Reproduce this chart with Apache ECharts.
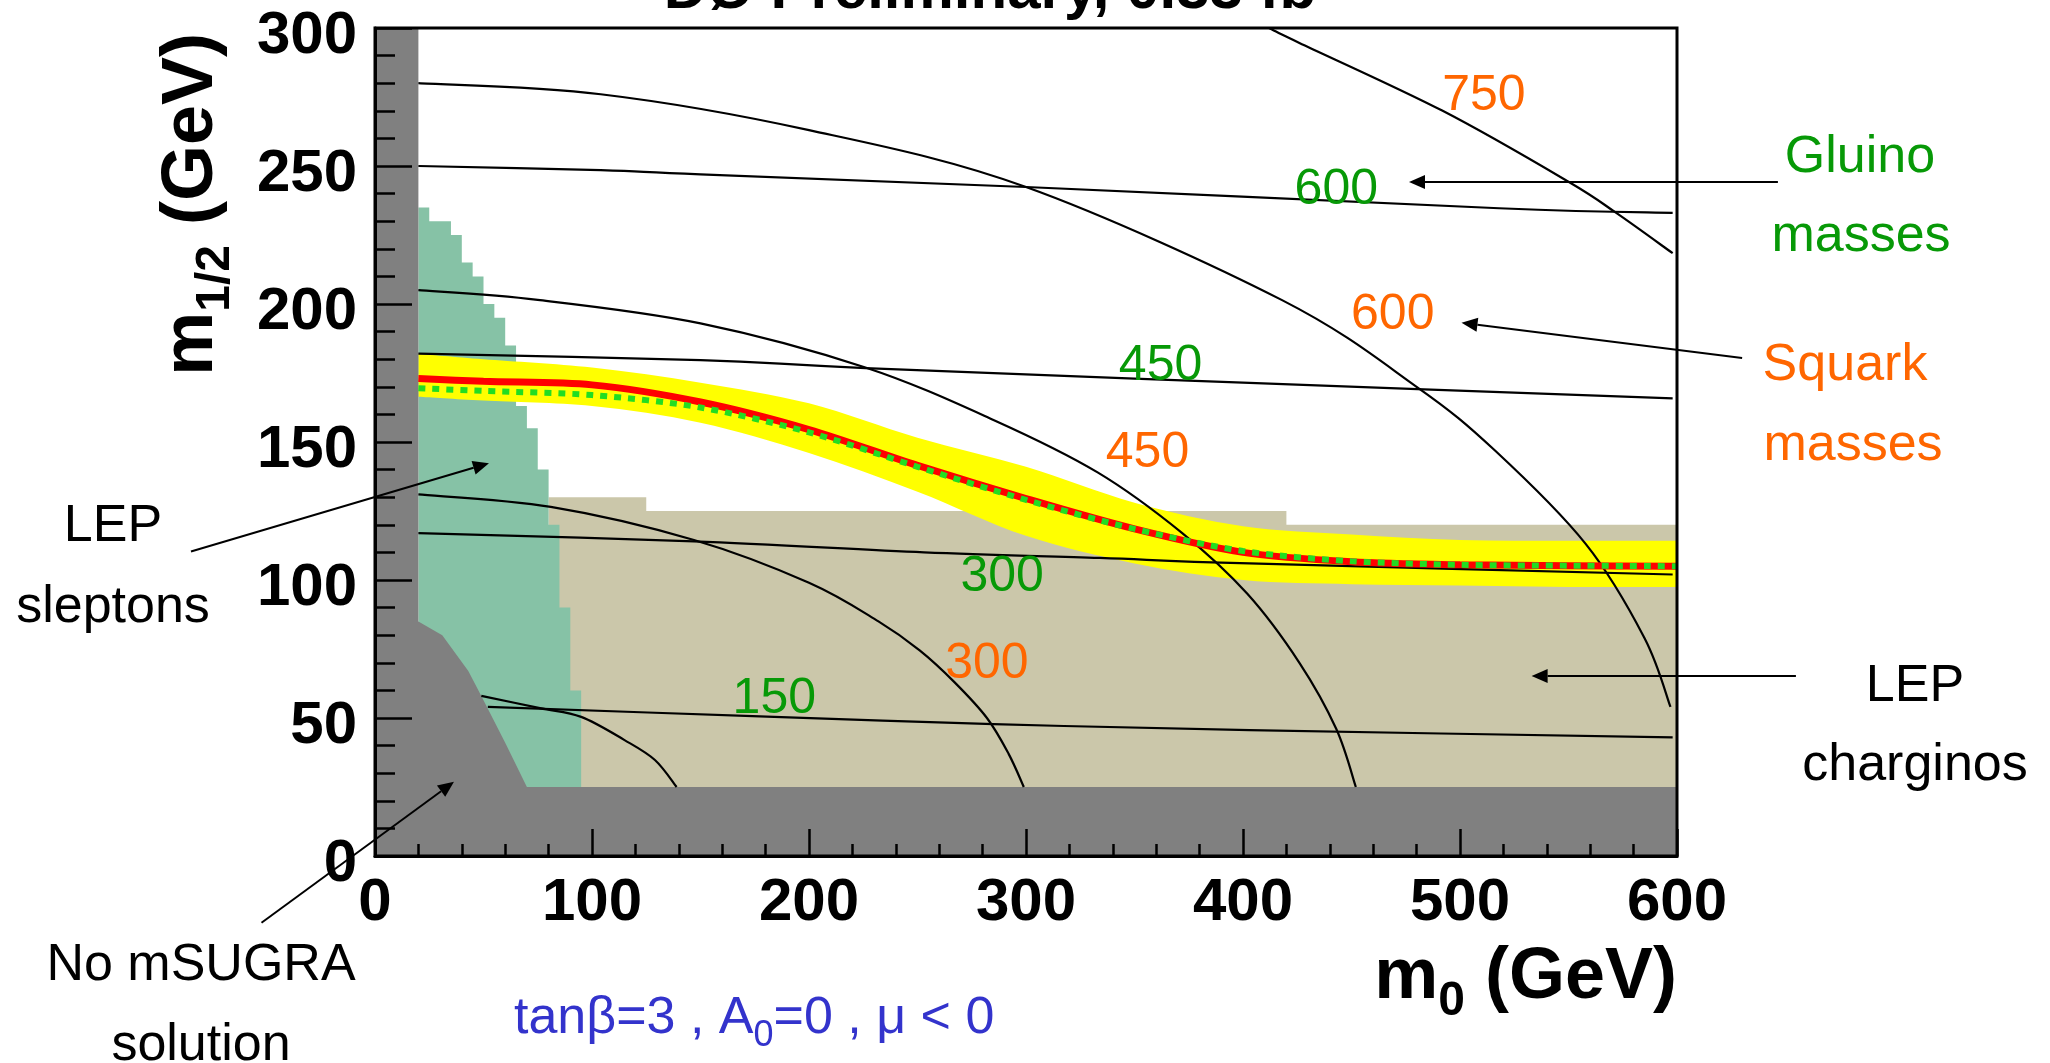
<!DOCTYPE html>
<html>
<head>
<meta charset="utf-8">
<script src="https://cdn.jsdelivr.net/npm/echarts/dist/echarts.min.js"></script>
<style>
  html, body { margin: 0; padding: 0; background: #fff; }
  #chart { width: 2050px; height: 1063px; }
</style>
</head>
<body>
<div id="chart"></div>
<script>
// ---- Axis ranges and ticks (GeV) ----
const m0Min = 0, m0Max = 600, m0Step = 100;
const mHalfMin = 0, mHalfMax = 300, mHalfStep = 50;

// ---- Region with no mSUGRA solution: [m0, m1/2] outline ----
const noSolutionOutline = [[0, 0], [600, 0], [600, 25], [70, 25], [60, 41], [49, 58],
  [43, 67], [31, 80], [20, 85], [20, 300], [0, 300]];

// ---- LEP slepton limit: bin edges in m0 and excluded m1/2 per bin ----
const sleptonEdges = [20, 25, 30, 35, 40, 45, 50, 55, 60, 65, 70, 75, 80, 85, 90, 95];
const sleptonTop = [235, 230, 230, 225, 215, 210, 200, 195, 185, 163, 155, 140, 120, 90, 60];

// ---- LEP chargino limit: m0 edges and excluded m1/2 ----
const charginoEdges = [80, 125, 420, 600];
const charginoTop = [130, 125, 120];
const lepFloor = 25;

// ---- Exclusion contour: m0 grid, observed, expected and expected band ----
const bandM0 = [20, 50, 100, 150, 200, 250, 300, 350, 400, 450, 500, 550, 600];
const observed = [173, 172, 170.7, 164.5, 154.5, 141.5, 129.5, 118.5, 110, 106.6, 105.5, 105.2, 105];
const expected = [169.5, 168.5, 167, 162.5, 153.5, 141, 129, 118.5, 110.5, 106.8, 105.5, 105.2, 105];
const bandUpper = [182, 180, 177, 171.5, 164, 151.5, 141, 128, 119.5, 116.5, 114.5, 114.2, 114.2];
const bandLower = [166.4, 165, 163, 157, 146, 132, 116, 106, 100, 98.5, 98, 97.5, 97.5];

// ---- Gluino mass contours [m0, m1/2] ----
const gluino150 = [[52, 54], [174, 50.7], [285, 47.8], [403, 45.6], [598, 43]];
const gluino300 = [[20, 117], [147, 114], [253, 110], [334, 108], [403, 106], [598, 102]];
const gluino450 = [[20, 182], [150, 179.7], [226, 176.8], [403, 171.4], [598, 165.8]];
const gluino600 = [[20, 250], [104, 248.5], [150, 247], [300, 242.4], [518, 234.7], [598, 233]];

// ---- Squark mass contours [m0, m1/2] ----
const squark150 = [[49, 58], [76, 53.6], [95, 50.4], [115, 42], [129, 34.8], [139, 25]];
const squark300 = [[20, 131], [81, 126.5], [147, 114.5], [200, 99], [232, 85], [251, 74.5],
  [267, 63], [282, 50], [292, 37], [299, 25]];
const squark450 = [[20, 205], [75, 201.5], [150, 193], [226, 177], [285, 158], [333, 139],
  [372, 117], [402, 95], [426, 70], [443, 46], [452, 25]];
const squark600 = [[20, 280], [104, 276], [200, 263], [300, 242.4], [418, 201.4], [480, 170],
  [516, 147], [558, 113], [585, 79], [597, 54]];
const squark750 = [[412, 300], [426, 294.6], [492, 270], [550, 244.3], [572, 233], [598, 218.4]];

// ---- Contour mass labels and where they sit ----
const gluinoMasses = [150, 300, 450, 600];
const gluinoLabelAt = [[184, 56.7], [289, 101], [362, 177.6], [443, 241.4]];
const squarkMasses = [300, 450, 600, 750];
const squarkLabelAt = [[282, 69.4], [356, 146], [469, 196], [511, 275.4]];

// ---- Annotation arrows: [fromM0, fromMHalf, toM0, toMHalf] ----
const arrowList = [
  [646.5, 244.2, 476.5, 244.2],   // Gluino masses
  [630, 180.4, 500.7, 193.2],     // Squark masses
  [654.8, 65.2, 533, 65.2],       // LEP charginos
  [-84.8, 110.3, 52.5, 142.3],    // LEP sleptons
  [-52.3, -24.2, 36.4, 26.9]      // No mSUGRA solution
];

const FONT = '"Liberation Sans", Arial, Helvetica, sans-serif';
const ORANGE = '#ff6600';
const GREEN = '#079907';
const BLUE = '#3333cc';

function stepOutline(edges, tops, floor) {
  const pts = [[edges[0], floor]];
  for (let i = 0; i < tops.length; i++) {
    pts.push([edges[i], tops[i]], [edges[i + 1], tops[i]]);
  }
  pts.push([edges[edges.length - 1], floor]);
  return pts;
}

function areaSeries(points, color) {
  return {
    type: 'custom', coordinateSystem: 'cartesian2d', clip: true, silent: true,
    data: [[0, 0]],
    renderItem: function (params, api) {
      return {
        type: 'polygon',
        shape: { points: points.map(function (p) { return api.coord(p); }) },
        style: { fill: color }
      };
    }
  };
}

// Catmull-Rom style curve through pixel points, as an SVG path string
function curvePath(pts, start) {
  let d = (start ? 'M' : 'L') + pts[0][0] + ' ' + pts[0][1];
  for (let i = 0; i < pts.length - 1; i++) {
    const p0 = pts[Math.max(i - 1, 0)], p1 = pts[i], p2 = pts[i + 1], p3 = pts[Math.min(i + 2, pts.length - 1)];
    const c1 = [p1[0] + (p2[0] - p0[0]) / 6, p1[1] + (p2[1] - p0[1]) / 6];
    const c2 = [p2[0] - (p3[0] - p1[0]) / 6, p2[1] - (p3[1] - p1[1]) / 6];
    d += 'C' + c1[0] + ' ' + c1[1] + ' ' + c2[0] + ' ' + c2[1] + ' ' + p2[0] + ' ' + p2[1];
  }
  return d;
}

// Expected band between two smooth edges
const bandSeries = {
  type: 'custom', coordinateSystem: 'cartesian2d', clip: true, silent: true,
  data: [[0, 0]],
  renderItem: function (params, api) {
    const up = bandM0.map(function (x, i) { return api.coord([x, bandUpper[i]]); });
    const lo = bandM0.map(function (x, i) { return api.coord([x, bandLower[i]]); }).reverse();
    return {
      type: 'path',
      shape: { pathData: curvePath(up, true) + curvePath(lo, false) + 'Z' },
      style: { fill: '#ffff00' }
    };
  }
};

// Mass contour drawn as a smooth curve through its points
function contourSeries(points) {
  return {
    type: 'custom', coordinateSystem: 'cartesian2d', clip: true, silent: true,
    data: points,
    renderItem: function (params, api) {
      if (params.dataIndex !== 0) return null;
      const px = points.map(function (p) { return api.coord(p); });
      return {
        type: 'path',
        shape: { pathData: curvePath(px, true) },
        style: { fill: null, stroke: '#000', lineWidth: 2.2 }
      };
    }
  };
}

function labelSeries(masses, at, color) {
  return {
    type: 'custom', coordinateSystem: 'cartesian2d', clip: false, silent: true,
    data: masses.map(function (m, i) { return [at[i][0], at[i][1], m]; }),
    renderItem: function (params, api) {
      const p = api.coord([api.value(0), api.value(1)]);
      return {
        type: 'text', x: p[0], y: p[1],
        style: { text: String(api.value(2)), fill: color, font: '50px ' + FONT,
          align: 'center', verticalAlign: 'middle' }
      };
    }
  };
}

const chart = echarts.init(document.getElementById('chart'), null, { renderer: 'canvas' });

const axisText = { color: '#000', fontFamily: FONT, fontWeight: 'bold', fontSize: 60 };

function plainText(text, x, y, color) {
  return {
    type: 'text', x: x, y: y, silent: true,
    style: { text: text, fill: color, font: '52px ' + FONT, align: 'center', verticalAlign: 'middle' }
  };
}

const titleRich = {
  a: { fontFamily: FONT, fontWeight: 'bold', fontSize: 72, lineHeight: 74, verticalAlign: 'top' },
  b: { fontFamily: FONT, fontWeight: 'bold', fontSize: 48, lineHeight: 50, verticalAlign: 'top', padding: [36, 0, 0, 0] }
};

chart.setOption({
  animation: false,
  backgroundColor: '#fff',
  grid: { left: 375, right: 373, top: 28, bottom: 207, show: true, borderColor: '#000', borderWidth: 3, z: 5 },
  xAxis: {
    type: 'value', min: m0Min, max: m0Max, interval: m0Step, z: 5,
    axisLine: { show: true, onZero: false, lineStyle: { color: '#000', width: 3 } },
    axisTick: { show: true, inside: true, length: 27, lineStyle: { color: '#000', width: 2.5 } },
    minorTick: { show: true, splitNumber: 5, length: 12, lineStyle: { color: '#000', width: 2.5 } },
    splitLine: { show: false },
    axisLabel: Object.assign({ margin: 17 }, axisText)
  },
  yAxis: {
    type: 'value', min: mHalfMin, max: mHalfMax, interval: mHalfStep, z: 5,
    axisLine: { show: true, onZero: false, lineStyle: { color: '#000', width: 3 } },
    axisTick: { show: true, inside: true, length: 37, lineStyle: { color: '#000', width: 2.5 } },
    minorTick: { show: true, splitNumber: 5, length: 20, lineStyle: { color: '#000', width: 2.5 } },
    splitLine: { show: false },
    axisLabel: Object.assign({ margin: 18, verticalAlign: 'top', lineHeight: 16 }, axisText)
  },
  series: [
    areaSeries(stepOutline(charginoEdges, charginoTop, lepFloor), '#cbc7aa'),
    areaSeries(stepOutline(sleptonEdges, sleptonTop, lepFloor), '#86c2a6'),
    bandSeries,
    areaSeries(noSolutionOutline, '#808080'),
    contourSeries(gluino150), contourSeries(gluino300), contourSeries(gluino450), contourSeries(gluino600),
    contourSeries(squark150), contourSeries(squark300), contourSeries(squark450), contourSeries(squark600),
    contourSeries(squark750),
    {
      type: 'line', data: bandM0.map(function (x, i) { return [x, observed[i]]; }),
      showSymbol: false, smooth: 0.3, silent: true,
      lineStyle: { color: '#ff0000', width: 7 }
    },
    {
      type: 'line', data: bandM0.map(function (x, i) { return [x, expected[i]]; }),
      showSymbol: false, smooth: 0.3, silent: true,
      lineStyle: { color: '#22dd22', width: 6, type: [7, 7], cap: 'butt' }
    },
    labelSeries(gluinoMasses, gluinoLabelAt, GREEN),
    labelSeries(squarkMasses, squarkLabelAt, ORANGE),
    {
      type: 'custom', coordinateSystem: 'cartesian2d', clip: false, silent: true, z: 6,
      encode: { x: [0, 2], y: [1, 3] },
      data: arrowList,
      renderItem: function (params, api) {
        const a = api.coord([api.value(0), api.value(1)]);
        const b = api.coord([api.value(2), api.value(3)]);
        const ang = Math.atan2(b[1] - a[1], b[0] - a[0]);
        const len = 16, half = 7;
        const bx = b[0] - len * Math.cos(ang), by = b[1] - len * Math.sin(ang);
        const nx = -Math.sin(ang) * half, ny = Math.cos(ang) * half;
        return {
          type: 'group', children: [
            { type: 'line', shape: { x1: a[0], y1: a[1], x2: bx, y2: by }, style: { stroke: '#000', lineWidth: 2 } },
            { type: 'polygon', shape: { points: [b, [bx + nx, by + ny], [bx - nx, by - ny]] }, style: { fill: '#000' } }
          ]
        };
      }
    }
  ],
  graphic: [
    {
      type: 'text', x: 1010, y: -9, silent: true,
      style: { text: 'DØ Preliminary, 0.33 fb⁻¹', fill: '#000', font: 'bold 60px ' + FONT, align: 'center', verticalAlign: 'middle' }
    },
    {
      type: 'text', x: 1677, y: 979, silent: true,
      style: { text: '{a|m}{b|0}{a| (GeV)}', rich: titleRich, fill: '#000', align: 'right', verticalAlign: 'middle' }
    },
    {
      type: 'text', x: 193, y: 33, rotation: Math.PI / 2, silent: true,
      style: { text: '{a|m}{b|1/2}{a| (GeV)}', rich: titleRich, fill: '#000', align: 'right', verticalAlign: 'middle' }
    },
    plainText('Gluino', 1860, 158, GREEN),
    plainText('masses', 1861, 237, GREEN),
    plainText('Squark', 1845, 366, ORANGE),
    plainText('masses', 1853, 446, ORANGE),
    plainText('LEP', 113, 527, '#000'),
    plainText('sleptons', 113, 608, '#000'),
    plainText('LEP', 1915, 687, '#000'),
    plainText('charginos', 1915, 766, '#000'),
    plainText('No mSUGRA', 201, 966, '#000'),
    plainText('solution', 201, 1046, '#000'),
    {
      type: 'text', x: 514, y: 1020, silent: true,
      style: {
        text: '{a|tanβ=3 , A}{s|0}{a|=0 , μ < 0}',
        fill: BLUE, align: 'left', verticalAlign: 'middle',
        rich: {
          a: { fontFamily: FONT, fontSize: 52, lineHeight: 54, verticalAlign: 'top', fill: BLUE },
          s: { fontFamily: FONT, fontSize: 36, lineHeight: 38, verticalAlign: 'top', padding: [25, 0, 0, 0], fill: BLUE }
        }
      }
    }
  ]
});
</script>
</body>
</html>
